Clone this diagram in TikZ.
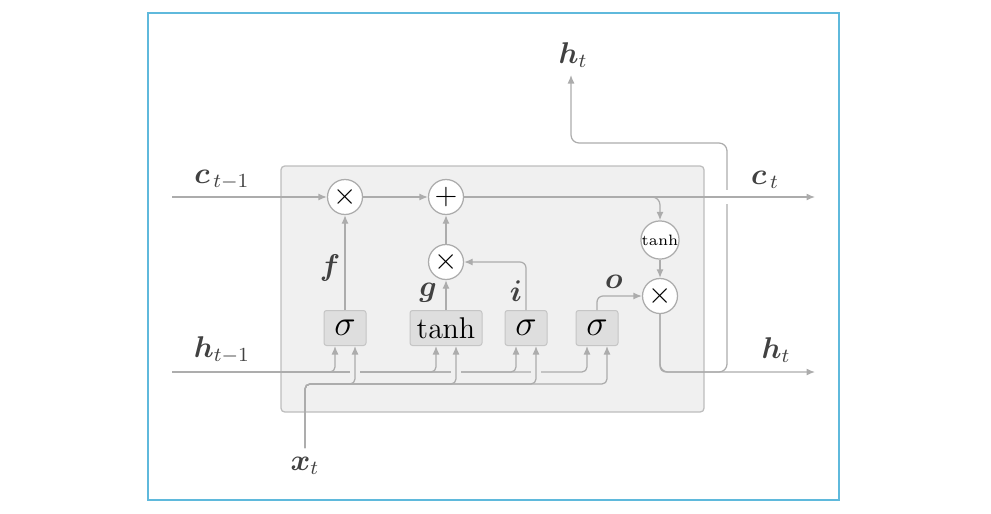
\documentclass[tikz,border=0pt]{standalone}
\usepackage{amsmath,amssymb,bm}
\usetikzlibrary{arrows.meta,positioning}
\definecolor{framecol}{RGB}{95,185,220}
\definecolor{linecol}{RGB}{172,172,172}
\definecolor{cellcol}{RGB}{240,240,240}
\definecolor{gatecol}{RGB}{222,222,222}
\definecolor{textcol}{RGB}{65,65,65}

\begin{document}
\begin{tikzpicture}[x=0.4pt,y=-0.4pt]
\tikzset{
  opnode/.style={circle,draw=linecol,fill=white,line width=0.5pt,minimum size=14pt,inner sep=0pt,font=\large},
  gatenode/.style={rectangle,rounded corners=1pt,draw=linecol!70,fill=gatecol,line width=0.4pt,minimum height=14pt,minimum width=16.8pt,inner sep=1pt,font=\Large,text=black},
  wire/.style={draw=linecol,line width=0.5pt,rounded corners=2.4pt},
  flow/.style={wire,-{Latex[length=3.4pt,width=2.8pt]}},
  gap/.style={draw=cellcol,line width=4pt},
  varlabel/.style={text=textcol,font=\large}
}
\useasboundingbox (0,0) rectangle (991,513);
\draw[framecol,line width=0.7pt] (148,13) rectangle (839,500);
% the cell
\draw[draw=linecol!80,fill=cellcol,line width=0.5pt,rounded corners=1.5pt] (281,166) rectangle (704,412);
% operations and gates
\node[opnode] (n_mulf) at (345,197) {$\times$};
\node[opnode] (n_add) at (446,197) {$+$};
\node[opnode] (n_mulg) at (446,262) {$\times$};
\node[opnode,font=\fontsize{6}{7}\selectfont] (n_tanhc) at (660,240) {tanh};
\node[opnode] (n_mulo) at (660,296) {$\times$};
\node[gatenode] (n_sf) at (345,328) {$\sigma$};
\node[gatenode,minimum width=28.8pt,font=\large] (n_tg) at (446,328) {$\tanh$};
\node[gatenode] (n_si) at (526,328) {$\sigma$};
\node[gatenode] (n_so) at (597,328) {$\sigma$};
% ends and turns
\coordinate (c_in) at (172,197);
\coordinate (c_out) at (815,197);
\coordinate (h_in) at (172,372);
\coordinate (h_out) at (815,372);
\coordinate (h_turn) at (727,143);
\coordinate (h_up) at (571,75);
\coordinate (x_in) at (305,448);
\coordinate (x_bus) at (0,384);
% gate inputs
\foreach \g in {n_sf,n_tg,n_si,n_so} {
  \coordinate (h_\g) at ([xshift=-4pt]\g.south);
  \coordinate (x_\g) at ([xshift=4pt]\g.south);
}
% labels
\node[varlabel] (l_ct1) at (222,180) {$\bm{c}_{\,t-1}$};
\node[varlabel] (l_ct) at (765,180) {$\bm{c}_{\,t}$};
\node[varlabel] (l_ht1) at (222,350) {$\bm{h}_{t-1}$};
\node[varlabel] (l_ht) at (776,350) {$\bm{h}_t$};
\node[varlabel] (l_hup) at (573,55) {$\bm{h}_t$};
\node[varlabel] (l_xt) at (305,466) {$\bm{x}_t$};
\node[varlabel] (l_f) at (330,268) {$\bm{f}$};
\node[varlabel] (l_g) at (428,293) {$\bm{g}$};
\node[varlabel] (l_i) at (516,291) {$\bm{i}$};
\node[varlabel] (l_o) at (614,282) {$\bm{o}$};
% cell state
\draw[flow] (c_in) -- (n_mulf);
\draw[flow] (n_mulf) -- (n_add);
\draw[flow,rounded corners=3.2pt] (n_add.east) -| (n_tanhc.north);
\draw[flow] (n_tanhc) -- (n_mulo);
\draw[flow] (n_sf) -- (n_mulf);
\draw[flow] (n_tg) -- (n_mulg);
\draw[flow] (n_mulg) -- (n_add);
\draw[flow] (n_si.north) |- (n_mulg.east);
\draw[flow] (n_so.north) |- (n_mulo.west);
% hidden state out
\draw[flow] (n_mulo.south) |- (h_out);
\draw[flow,rounded corners=3.2pt] (n_mulo.south) |- (h_turn |- h_out) -- (h_turn) -| (h_up);
\draw[gap,white,line width=5pt] (h_turn |- c_out) ++(0,-7) -- ++(0,14);
\draw[flow] (n_add) -- (c_out);
% inputs
\foreach \g in {n_sf,n_tg,n_si,n_so}
  \draw[flow,rounded corners=2pt] (h_in) -| (h_\g);
\foreach \g in {n_sf,n_tg,n_si,n_so}
  \draw[gap] (x_\g |- h_in) ++(0,-7) -- ++(0,14);
\foreach \g in {n_sf,n_tg,n_si,n_so}
  \draw[flow,rounded corners=2pt] (x_in) |- (x_bus -| x_\g) -- (x_\g);
\end{tikzpicture}
\end{document}
